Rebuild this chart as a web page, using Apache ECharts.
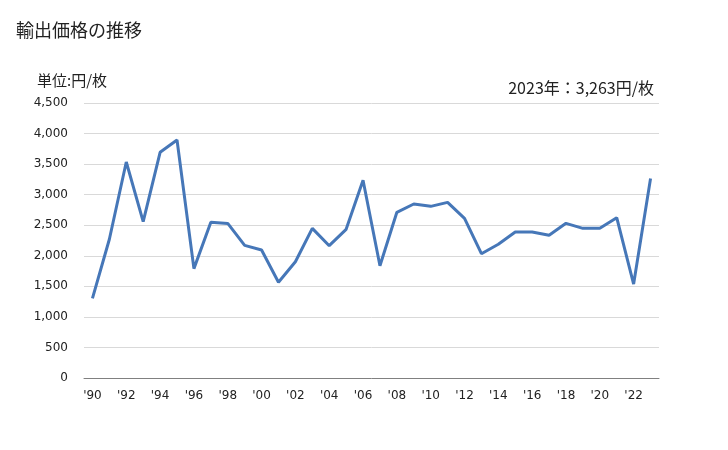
<!DOCTYPE html>
<html><head><meta charset="utf-8">
<script src="https://cdn.jsdelivr.net/npm/echarts@6/dist/echarts.min.js"></script>
<style>html,body{margin:0;padding:0;background:#fff}#c{width:728px;height:450px}</style>
</head><body><div id="c"></div>
<script>
const years = [1990,1991,1992,1993,1994,1995,1996,1997,1998,1999,2000,2001,2002,2003,2004,2005,2006,2007,2008,2009,2010,2011,2012,2013,2014,2015,2016,2017,2018,2019,2020,2021,2022,2023];
const prices = [1304,2270,3535,2558,3693,3895,1790,2547,2530,2171,2094,1566,1903,2449,2165,2433,3235,1838,2711,2847,2809,2874,2613,2034,2188,2389,2389,2335,2531,2449,2449,2623,1538,3263];
const yTicks = {min:0, max:4500, interval:500};
const title = '輸出価格の推移';
const unit = '単位:円/枚';
const note = '2023年：3,263円/枚';

const chart = echarts.init(document.getElementById('c'));
chart.setOption({
  animation:false,
  backgroundColor:'#fff',
  title:[
    {text:title,left:11,top:16,textStyle:{fontFamily:'Noto Sans CJK JP',fontSize:18,fontWeight:'normal',color:'#222'}},
    {text:unit,left:32,top:68,textStyle:{fontFamily:'Noto Sans CJK JP',fontSize:15,fontWeight:'normal',color:'#222'}},
    {text:note,right:69,top:75,textStyle:{fontFamily:'Noto Sans CJK JP',fontSize:16,fontWeight:'normal',color:'#222'}}
  ],
  grid:{left:84,right:69,top:103,bottom:72,containLabel:false},
  xAxis:{
    type:'category',data:years,boundaryGap:true,
    axisLine:{lineStyle:{color:'#808080'}},
    axisTick:{show:false},
    axisLabel:{interval:1,margin:12,fontFamily:'DejaVu Sans',fontSize:12,color:'#222',
      formatter:v=>"'"+String(v).slice(2)}
  },
  yAxis:{
    type:'value',min:yTicks.min,max:yTicks.max,interval:yTicks.interval,
    axisLine:{show:false},axisTick:{show:false},
    splitLine:{lineStyle:{color:'#d9d9d9'}},
    axisLabel:{margin:16,fontFamily:'DejaVu Sans',fontSize:12,color:'#222',
      formatter:v=>v.toLocaleString('en-US')}
  },
  series:[{type:'line',data:prices,symbol:'none',lineStyle:{width:3,color:'#4677b8'},itemStyle:{color:'#4677b8'}}]
});
</script></body></html>
